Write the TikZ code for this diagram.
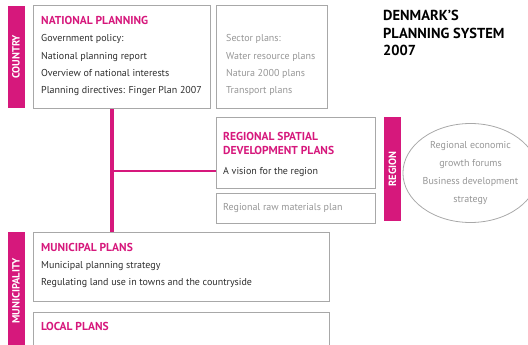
\documentclass[tikz,border=0pt]{standalone}
\usepackage{fontspec}
\setmainfont{PT Sans}
\usetikzlibrary{shapes.geometric,positioning}
\definecolor{planpink}{RGB}{214,24,124}
\definecolor{boxgray}{RGB}{168,168,168}
\definecolor{bodytext}{RGB}{45,45,45}
\definecolor{softtext}{RGB}{150,150,150}

\begin{document}
\begin{tikzpicture}
  [x=1pt, y=-1pt,
  plan box/.style={draw=boxgray, line width=1.3pt, anchor=north west, inner sep=0pt},
  level bar/.style={fill=planpink, text=white, rotate=90, inner sep=0pt,
    minimum height=17pt, font=\bfseries\fontsize{10.5}{10.5}\selectfont},
  heading/.style={anchor=base west, text=planpink, inner sep=0pt,
    font=\bfseries\fontsize{11.5}{14.5}\selectfont},
  body/.style={anchor=base west, text=bodytext, inner sep=0pt,
    font=\fontsize{10}{12}\selectfont},
  soft/.style={body, text=softtext},
  link/.style={draw=planpink, line width=#1}
  ]
  \useasboundingbox (0,0) rectangle (528,345);

  % Level bars
  \node (country) [level bar, minimum width=102pt] at (16,57) {COUNTRY};
  \node (region) [level bar, minimum width=104pt] at (392.5,169) {REGION};
  \node (municipality) [level bar, minimum width=118pt] at (16,291) {MUNICIPALITY};

  % Boxes
  \node (national) [plan box, minimum width=177pt, minimum height=103pt] at (33,5) {};
  \node (sector) [plan box, minimum width=111pt, minimum height=103pt] at (216,5) {};
  \node (regional) [plan box, minimum width=159pt, minimum height=71pt] at (216,117) {};
  \node (raw) [plan box, minimum width=159pt, minimum height=30pt] at (216,193) {};
  \node (municipal) [plan box, minimum width=296pt, minimum height=69pt] at (33,232) {};
  \node (local) [plan box, minimum width=296pt, minimum height=40pt] at (33,312) {};

  % National level
  \node (national head) [heading] at (41,25) {NATIONAL PLANNING};
  \foreach \txt [count=\i] in {Government policy:, National planning report,
      Overview of national interests, Planning directives: Finger Plan 2007}
    \node (national \i) [body] at (41,24.5+17.3*\i) {\txt};
  \foreach \txt [count=\i] in {Sector plans:, Water resource plans,
      Natura 2000 plans, Transport plans}
    \node (sector \i) [soft] at (226,24.5+17.3*\i) {\txt};

  % Regional level
  \node (regional head) [heading, align=left] at (223,154.5)
    {REGIONAL SPATIAL\\DEVELOPMENT PLANS};
  \node (regional 1) [body] at (223,174) {A vision for the region};
  \node (raw 1) [soft] at (223,210) {Regional raw materials plan};
  \node (forums) [ellipse, draw=boxgray, line width=0.8pt, minimum width=114pt,
    minimum height=99pt, inner sep=0pt, align=center, text=softtext,
    font=\fontsize{10}{18}\selectfont] at (470.5,173)
    {Regional economic\\growth forums\\Business development\\strategy};

  % Municipal level
  \node (municipal head) [heading] at (41,251) {MUNICIPAL PLANS};
  \node (municipal 1) [body] at (41,268) {Municipal planning strategy};
  \node (municipal 2) [body] at (41,285) {Regulating land use in towns and the countryside};
  \node (local head) [heading] at (41,330) {LOCAL PLANS};

  % Title
  \foreach \txt [count=\i] in {DENMARK’S, PLANNING SYSTEM, 2007}
    \node (title \i) [anchor=base west, inner sep=0pt,
      font=\bfseries\fontsize{14.5}{16}\selectfont] at (383,3.5+17.5*\i) {\txt};

  % Links
  \coordinate (spine) at (112,171);
  \draw [link=4pt] (spine |- national.south) -- (spine |- municipal.north);
  \draw [link=2.5pt] (spine) -- (spine -| regional.west);
\end{tikzpicture}
\end{document}
